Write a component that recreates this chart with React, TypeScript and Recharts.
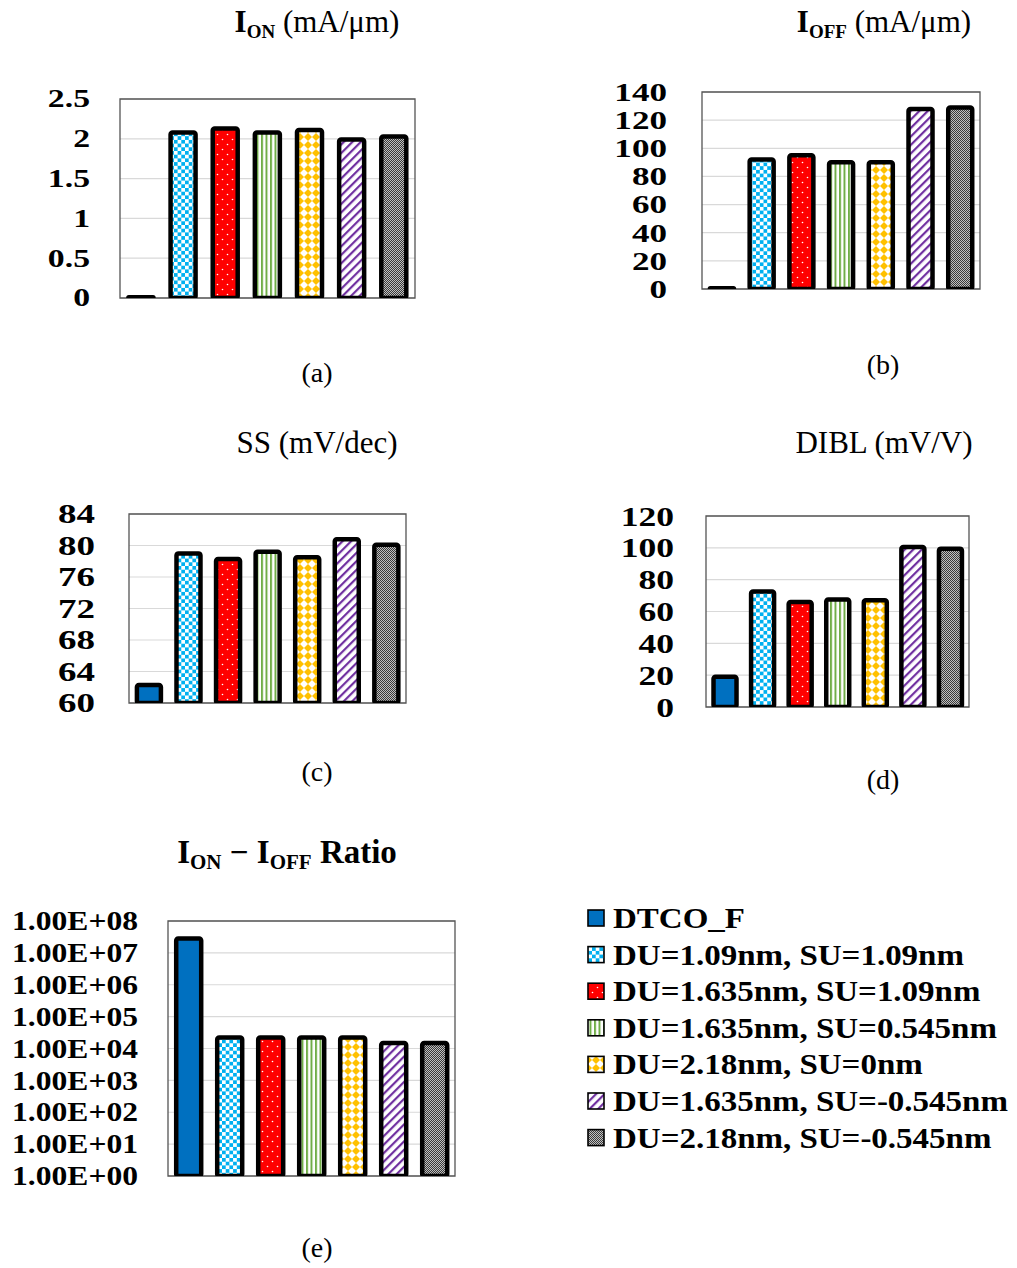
import React from 'react';
import { BarChart, Bar, Cell, XAxis, YAxis, CartesianGrid, ReferenceArea } from 'recharts';

const categories = [
  'DTCO_F',
  'DU=1.09nm, SU=1.09nm',
  'DU=1.635nm, SU=1.09nm',
  'DU=1.635nm, SU=0.545nm',
  'DU=2.18nm, SU=0nm',
  'DU=1.635nm, SU=-0.545nm',
  'DU=2.18nm, SU=-0.545nm',
];

const ionValues = [0.01, 2.08, 2.13, 2.08, 2.11, 1.99, 2.03];
const ioffValues = [0.5, 92, 95, 90, 90, 128, 129];
const ssValues = [62.3, 79.0, 78.3, 79.2, 78.5, 80.8, 80.1];
const diblValues = [19, 72.5, 66, 67.5, 67, 100.5, 99.5];
const ratioValues = [2.8e7, 2.2e4, 2.2e4, 2.2e4, 2.2e4, 1.5e4, 1.5e4];

const ionTicks = [0, 0.5, 1, 1.5, 2, 2.5];
const ioffTicks = [0, 20, 40, 60, 80, 100, 120, 140];
const ssTicks = [60, 64, 68, 72, 76, 80, 84];
const diblTicks = [0, 20, 40, 60, 80, 100, 120];
const ratioTicks = [1, 1e1, 1e2, 1e3, 1e4, 1e5, 1e6, 1e7, 1e8];
const ratioTickLabels = ['1.00E+00', '1.00E+01', '1.00E+02', '1.00E+03', '1.00E+04', '1.00E+05', '1.00E+06', '1.00E+07', '1.00E+08'];

const SERIF = '"Liberation Serif", "Times New Roman", serif';

function Patterns() {
  return (
    <defs>
      <pattern id="p0" patternUnits="userSpaceOnUse" width={4} height={4}>
        <rect width={4} height={4} fill="#0070C0" />
      </pattern>
      <pattern id="p1" patternUnits="userSpaceOnUse" width={7.4} height={7.4}>
        <rect width={7.4} height={7.4} fill="#fff" />
        <rect width={3.7} height={3.7} fill="#00B0F0" />
        <rect x={3.7} y={3.7} width={3.7} height={3.7} fill="#00B0F0" />
      </pattern>
      <pattern id="p2" patternUnits="userSpaceOnUse" width={10} height={10}>
        <rect width={10} height={10} fill="#FF0000" />
        <circle cx={2.5} cy={2.5} r={0.8} fill="#fff" />
        <circle cx={7.5} cy={7.5} r={0.8} fill="#fff" />
      </pattern>
      <pattern id="p3" patternUnits="userSpaceOnUse" width={4.5} height={4}>
        <rect width={4.5} height={4} fill="#fff" />
        <rect width={2} height={4} fill="#70AD47" />
      </pattern>
      <pattern id="p4" patternUnits="userSpaceOnUse" width={8} height={8}>
        <rect width={8} height={8} fill="#fff" />
        <polygon points="4,0 8,4 4,8 0,4" fill="#FFC000" />
      </pattern>
      <pattern id="p5" patternUnits="userSpaceOnUse" width={6} height={6} patternTransform="rotate(45)">
        <rect width={6} height={6} fill="#fff" />
        <rect width={2.2} height={6} fill="#7030A0" />
      </pattern>
      <pattern id="p6" patternUnits="userSpaceOnUse" width={2} height={2}>
        <rect width={2} height={2} fill="#c0c0c0" />
        <rect width={1} height={1} fill="#3a3a3a" />
        <rect x={1} y={1} width={1} height={1} fill="#3a3a3a" />
      </pattern>
    </defs>
  );
}

type Box = { x1: number; x2: number; y1: number; y2: number };

const makeTick = (fs: number, sx: number, ticks: number[], labels?: string[]) => (p: any) => {
  const v = p.payload.value;
  const txt = labels ? labels[ticks.indexOf(v)] : String(v);
  return (
    <text
      transform={`translate(${p.x},${p.y}) scale(${sx},1)`}
      textAnchor="end"
      dominantBaseline="central"
      fontSize={fs}
      fontWeight="bold"
      fontFamily={SERIF}
      fill="#000"
    >
      {txt}
    </text>
  );
};

function Panel({ values, ticks, labels, log, box, left, fs, sx, gap }: {
  values: number[]; ticks: number[]; labels?: string[]; log?: boolean;
  box: Box; left: number; fs: number; sx: number; gap: number;
}) {
  const rows = categories.map((name, i) => ({ name, v: values[i] }));
  const top = box.y1 - 22;
  const width = box.x2 + 8 - left;
  const height = box.y2 + 24 - top;
  const domain: [number, number] = [ticks[0], ticks[ticks.length - 1]];
  return (
    <div style={{ position: 'absolute', left, top }}>
      <BarChart width={width} height={height} data={rows}
        margin={{ top: 22, right: 8, bottom: 24, left: 0 }} barCategoryGap="20%">
        <CartesianGrid vertical={false} stroke="#d9d9d9" strokeWidth={1.2} />
        <XAxis dataKey="name" hide />
        <YAxis width={box.x1 - left} domain={domain} ticks={ticks} scale={log ? 'log' : 'auto'}
          allowDataOverflow axisLine={false} tickLine={false} tickSize={0} tickMargin={gap}
          interval={0} tick={makeTick(fs, sx, ticks, labels)} />
        <ReferenceArea y1={domain[0]} y2={domain[1]} fill="none" fillOpacity={0}
          stroke="#555" strokeWidth={1.3} ifOverflow="visible" />
        <Bar dataKey="v" isAnimationActive={false} stroke="#000" strokeWidth={4.5}
          strokeLinejoin="round" radius={2}>
          {rows.map((_, i) => <Cell key={i} fill={`url(#p${i})`} />)}
        </Bar>
      </BarChart>
    </div>
  );
}

export default function App() {
  const legendTop = 918;
  const legendStep = 36.6;
  return (
    <div style={{ position: 'absolute', left: 0, top: 0, width: 1017, height: 1268, background: '#fff', fontFamily: SERIF }}>
      <svg width={1017} height={1268} style={{ position: 'absolute', left: 0, top: 0 }}>
        <Patterns />
        <g fontFamily={SERIF} fill="#000" fontSize={31} textAnchor="middle">
          <text x={317} y={32}>
            <tspan fontWeight="bold">I</tspan>
            <tspan fontWeight="bold" fontSize={19} dy={6}>ON</tspan>
            <tspan dy={-6}> (mA/μm)</tspan>
          </text>
          <text x={884} y={32}>
            <tspan fontWeight="bold">I</tspan>
            <tspan fontWeight="bold" fontSize={19} dy={6}>OFF</tspan>
            <tspan dy={-6}> (mA/μm)</tspan>
          </text>
          <text x={317} y={453}>SS (mV/dec)</text>
          <text x={884} y={453}>DIBL (mV/V)</text>
          <text x={287} y={863} fontWeight="bold" fontSize={33}>
            <tspan>I</tspan>
            <tspan fontSize={21} dy={6}>ON</tspan>
            <tspan dy={-6}> − I</tspan>
            <tspan fontSize={21} dy={6}>OFF</tspan>
            <tspan dy={-6}> Ratio</tspan>
          </text>
        </g>
        <g fontFamily={SERIF} fill="#000" fontSize={28} textAnchor="middle">
          <text x={317} y={382}>(a)</text>
          <text x={883} y={374}>(b)</text>
          <text x={317} y={781}>(c)</text>
          <text x={883} y={789}>(d)</text>
          <text x={317} y={1257}>(e)</text>
        </g>
        <g>
          {categories.map((c, i) => {
            const cy = legendTop + i * legendStep;
            return (
              <g key={c}>
                <rect x={588} y={cy - 8} width={16} height={16} fill={`url(#p${i})`} stroke="#000" strokeWidth={1.6} />
                <text transform={`translate(613,${cy + 10}) scale(1.1,1)`} fontFamily={SERIF}
                  fontWeight="bold" fontSize={30} fill="#000">{c}</text>
              </g>
            );
          })}
        </g>
      </svg>
      <Panel values={ionValues} ticks={ionTicks} box={{ x1: 120, x2: 415, y1: 99, y2: 298 }}
        left={0} fs={25} sx={1.35} gap={30} />
      <Panel values={ioffValues} ticks={ioffTicks} box={{ x1: 702, x2: 980, y1: 92, y2: 289 }}
        left={560} fs={26} sx={1.35} gap={35} />
      <Panel values={ssValues} ticks={ssTicks} box={{ x1: 129, x2: 406, y1: 514, y2: 703 }}
        left={0} fs={27} sx={1.37} gap={34} />
      <Panel values={diblValues} ticks={diblTicks} box={{ x1: 706, x2: 969, y1: 516, y2: 707 }}
        left={560} fs={28} sx={1.27} gap={32} />
      <Panel values={ratioValues} ticks={ratioTicks} labels={ratioTickLabels} log
        box={{ x1: 168, x2: 455, y1: 921, y2: 1176 }} left={0} fs={27} sx={1.17} gap={30} />
    </div>
  );
}
